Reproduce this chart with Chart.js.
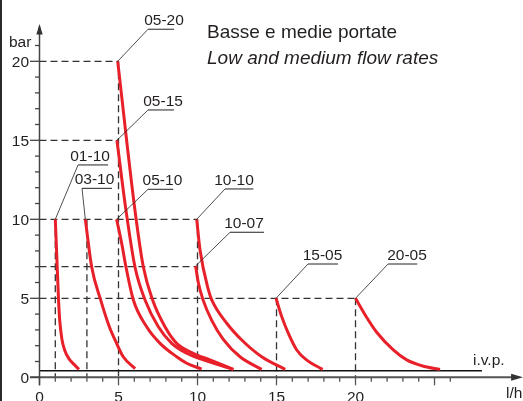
<!DOCTYPE html>
<html>
<head>
<meta charset="utf-8">
<script src="https://cdn.jsdelivr.net/npm/chart.js@4.4.1/dist/chart.umd.min.js"></script>
<style>
  html, body { margin: 0; padding: 0; background: #fff; }
  #wrap { width: 523px; height: 401px; position: relative; }
</style>
</head>
<body>
<div id="wrap"><canvas id="flowChart"></canvas></div>
<script>
// curve names: nominal flow (l/h) - max pressure (bar)
const curveNames = ['01-10', '03-10', '05-10', '05-15', '05-20', '10-07', '10-10', '15-05', '20-05'];

// flow (l/h) and pressure (bar), from its top point down
const flow0110 = [1.0, 1.1, 1.2, 1.28, 1.42, 1.6, 1.85, 2.15, 2.5];
const bar0110  = [10, 7.5, 5, 3.6, 2.4, 1.7, 1.2, 0.85, 0.5];
const flow0310 = [2.9, 3.3, 3.87, 4.42, 4.88, 5.3, 6.05];
const bar0310  = [10, 7, 4.9, 3.2, 2.15, 1.3, 0.55];
const flow0510 = [4.88, 5.2, 5.47, 5.94, 6.78, 7.63, 8.68, 9.32, 10.26];
const bar0510  = [10, 8.48, 7, 4.89, 3.2, 2.15, 1.3, 0.89, 0.52];
const flow0515 = [4.9, 5.47, 6.04, 6.68, 7.52, 8.37, 9.32, 10.37, 12.27];
const bar0515  = [15, 10.59, 7, 4.89, 3.2, 2.15, 1.52, 1.1, 0.5];
const flow0520 = [4.95, 6.04, 6.57, 7.16, 7.94, 8.68, 9.73, 10.79, 12.27];
const bar0520  = [20, 10.59, 7, 4.89, 3.2, 2.15, 1.52, 1.1, 0.5];
const flow1007 = [9.88, 10.05, 10.35, 10.9, 11.63, 12.69, 14.06];
const bar1007  = [7.05, 6.0, 4.9, 3.6, 2.4, 1.3, 0.5];
const flow1010 = [9.95, 10.16, 10.69, 10.9, 11.85, 12.8, 14.06, 15.55];
const bar1010  = [10, 8.06, 5.53, 4.9, 3.42, 2.36, 1.3, 0.5];
const flow1505 = [14.97, 15.33, 15.75, 16.28, 16.9, 17.92];
const bar1505  = [5, 3.84, 2.78, 1.73, 1.1, 0.5];
const flow2005 = [20, 20.7, 21.34, 22.39, 23.24, 24.3, 25.35];
const bar2005  = [5, 3.8, 2.85, 1.73, 1.1, 0.7, 0.5];

const curveFlows = [flow0110, flow0310, flow0510, flow0515, flow0520, flow1007, flow1010, flow1505, flow2005];
const curveBars  = [bar0110, bar0310, bar0510, bar0515, bar0520, bar1007, bar1010, bar1505, bar2005];

// axis ticks
const flowTicks = [0, 5, 10, 15, 20];
const barTicks = [0, 5, 10, 15, 20];
const ivpBar = 0.42;   // i.v.p. line
const ivpFlowEnd = 28;

// dashed reference lines
const guideBars = [20, 15, 10, 7, 5];
const guideBarsTo = [5, 5, 10, 10, 20];
const guideFlows = [1, 3, 5, 10, 15, 20];
const guideFlowsFrom = [10, 10, 20, 10, 5, 5];

// label placement (data units): underline start x, underline y, underline length, text centre x
const tagUx = [2.44, 2.69, 6.87, 6.87, 6.87, 12.06, 11.74, 16.99, 22.06];
const tagUy = [13.44, 11.96, 11.9, 16.92, 22.03, 9.18, 11.92, 7.17, 7.17];
const tagUw = [1.9, 1.9, 1.6, 1.65, 1.65, 2.15, 1.8, 1.9, 1.85];
const tagTx = [3.2, 3.48, 7.78, 7.82, 7.88, 12.94, 12.31, 17.91, 23.26];

const FONT = '"Liberation Sans", Arial, sans-serif';
const INK = '#231f20';

const decor = {
    id: 'decor',
    beforeDatasetsDraw(chart) {
        const ctx = chart.ctx, xs = chart.scales.x, ys = chart.scales.y;
        const px = v => xs.getPixelForValue(v), py = v => ys.getPixelForValue(v);
        function seg(x1, y1, x2, y2) {
            ctx.beginPath(); ctx.moveTo(x1, y1); ctx.lineTo(x2, y2); ctx.stroke();
        }
        ctx.save();
        // left frame edge
        ctx.fillStyle = '#2a2a2a';
        ctx.fillRect(0, 0, 2, chart.height);

        // dashed guides
        ctx.strokeStyle = '#333';
        ctx.lineWidth = 1.3;
        ctx.setLineDash([7, 4]);
        guideBars.forEach(function(b, i) { seg(px(0), py(b), px(guideBarsTo[i]), py(b)); });
        guideFlows.forEach(function(f, i) { seg(px(f), py(guideFlowsFrom[i]), px(f), py(0)); });
        ctx.setLineDash([]);

        // i.v.p. line
        ctx.strokeStyle = '#111';
        ctx.lineWidth = 1.5;
        seg(px(0), py(ivpBar), px(ivpFlowEnd), py(ivpBar));

        // x axis
        ctx.strokeStyle = '#555';
        ctx.fillStyle = '#333';
        ctx.lineWidth = 2;
        seg(px(-0.6), py(0), px(30.2), py(0));
        ctx.beginPath();
        ctx.moveTo(px(30.6), py(0));
        ctx.lineTo(px(29.85), py(0) - 3.5);
        ctx.lineTo(px(29.85), py(0) + 3.5);
        ctx.closePath(); ctx.fill();
        ctx.lineWidth = 1.3;
        for (let f = 0; f <= 26; f++) {
            const len = f % 5 === 0 ? 8 : 4.5;
            seg(px(f), py(0), px(f), py(0) + len);
        }

        // y axis
        ctx.strokeStyle = '#444';
        ctx.lineWidth = 1.5;
        seg(px(0), py(0) + 8, px(0), py(22.2));
        ctx.beginPath();
        ctx.moveTo(px(0), py(22.3) - 1);
        ctx.lineTo(px(0) - 3.2, py(21.7));
        ctx.lineTo(px(0) + 3.2, py(21.7));
        ctx.closePath(); ctx.fill();
        ctx.lineWidth = 1.3;
        for (let b = 0; b <= 21; b++) {
            const len = b % 5 === 0 ? 9.5 : 4.5;
            seg(px(0) - len, py(b), px(0), py(b));
        }
        ctx.restore();
    },
    afterDatasetsDraw(chart) {
        const ctx = chart.ctx, xs = chart.scales.x, ys = chart.scales.y;
        const px = v => xs.getPixelForValue(v), py = v => ys.getPixelForValue(v);
        ctx.save();
        ctx.fillStyle = INK;
        ctx.font = '15.5px ' + FONT;

        // tick labels
        ctx.textAlign = 'right';
        ctx.textBaseline = 'middle';
        barTicks.forEach(function(b) { ctx.fillText(String(b), px(0) - 10.5, py(b) + 1); });
        ctx.textAlign = 'center';
        ctx.textBaseline = 'alphabetic';
        flowTicks.forEach(function(f) { ctx.fillText(String(f), px(f), py(0) + 25); });

        // axis names
        ctx.textAlign = 'left';
        ctx.fillText('bar', 9, 47);
        ctx.fillText('l/h', 506, 398);
        ctx.fillText('i.v.p.', 473, 365);

        // curve labels with leaders
        ctx.strokeStyle = '#222';
        curveNames.forEach(function(name, i) {
            const sx = px(curveFlows[i][0]), sy = py(curveBars[i][0]);
            const ux = px(tagUx[i]), uy = py(tagUy[i]);
            ctx.lineWidth = 0.8;
            ctx.beginPath(); ctx.moveTo(sx, sy); ctx.lineTo(ux, uy); ctx.stroke();
            ctx.lineWidth = 1;
            ctx.beginPath(); ctx.moveTo(ux, uy); ctx.lineTo(px(tagUx[i] + tagUw[i]), uy); ctx.stroke();
            ctx.textAlign = 'center';
            ctx.fillText(name, px(tagTx[i]), uy - 4);
        });

        // title
        ctx.textAlign = 'left';
        ctx.font = '19px ' + FONT;
        ctx.fillText('Basse e medie portate', 207, 38);
        ctx.font = 'italic 19px ' + FONT;
        ctx.fillText('Low and medium flow rates', 207, 64);
        ctx.restore();
    }
};

var ctx = document.getElementById('flowChart').getContext('2d');
var chart = new Chart(ctx, {
    type: 'scatter',
    data: {
        datasets: curveNames.map(function(name, i) {
            return {
                label: name,
                data: curveFlows[i].map(function(f, k) { return { x: f, y: curveBars[i][k] }; }),
                showLine: true,
                borderColor: '#e8202a',
                borderWidth: 3,
                pointRadius: 0,
                cubicInterpolationMode: 'monotone',
                fill: false
            };
        })
    },
    options: {
        responsive: true,
        maintainAspectRatio: false,
        animation: false,
        layout: { padding: 0 },
        plugins: {
            legend: { display: false },
            tooltip: { enabled: false }
        },
        scales: {
            x: { type: 'linear', min: -2.5, max: 30.6, display: false },
            y: { type: 'linear', min: -1.5, max: 23.88, display: false }
        }
    },
    plugins: [decor]
});
</script>
</body>
</html>
